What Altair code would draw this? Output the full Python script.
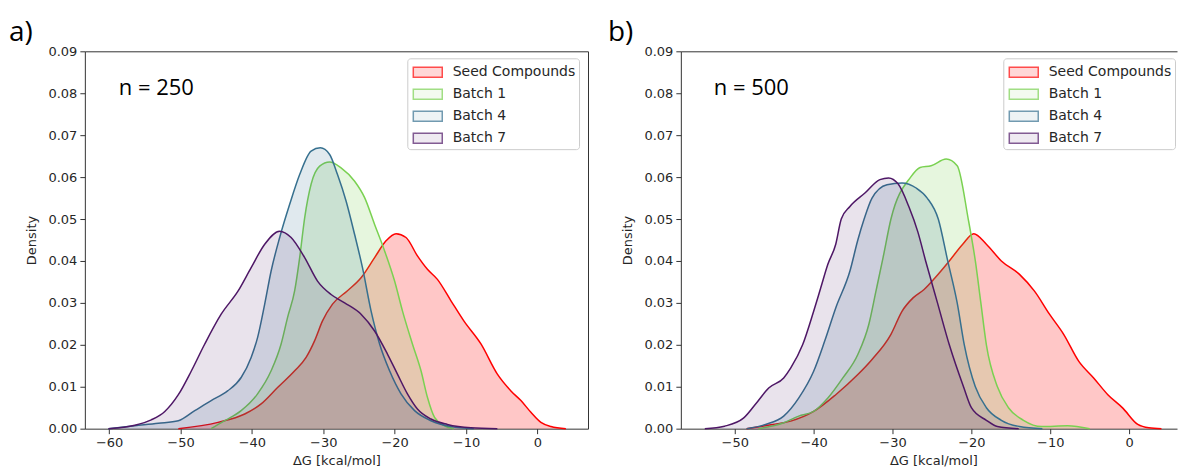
import altair as alt
import pandas as pd

SERIES = ["Seed Compounds", "Batch 1", "Batch 4", "Batch 7"]
LINE_COLORS = ["#ff0000", "#7ad151", "#36708f", "#4e1766"]
FILL_ALPHA = [0.22, 0.12, 0.12, 0.12]
SWATCH_COLORS = ["#ffc7c7", "#eff9ea", "#e6eef2", "#e9e2ec"]
DRAW_ORDER = ["Seed Compounds", "Batch 1", "Batch 4", "Batch 7"]

Y_TICKS = [0.0, 0.01, 0.02, 0.03, 0.04, 0.05, 0.06, 0.07, 0.08, 0.09]
A_X_TICKS = [-60, -50, -40, -30, -20, -10, 0]
B_X_TICKS = [-50, -40, -30, -20, -10, 0]

# ---- panel a (n = 250) ----
A_SEED_X = [-50.3, -44.75, -41.0, -38.7, -36.4, -34.0, -32.4, -31.2, -30.1, -28.7, -26.6, -24.7, -22.8, -21.2,
            -19.8, -18.4, -16.8, -15.4, -14.0, -12.1, -10.3, -7.9, -5.6, -3.7, -2.3, -0.9, 0.5, 1.9, 4.0]
A_SEED_Y = [0, 0.0015, 0.0035, 0.0059, 0.0098, 0.0138, 0.017, 0.021, 0.0257, 0.0297, 0.0329, 0.036, 0.0408, 0.0448,
            0.0465, 0.0456, 0.0412, 0.038, 0.0356, 0.0305, 0.0257, 0.0202, 0.013, 0.009, 0.0067, 0.0039, 0.0015,
            0.0005, 0]

A_B1_X = [-45.7, -43.8, -41.5, -39.2, -37.3, -35.9, -35.0, -34.0, -33.3, -32.6, -31.7, -30.5, -29.1, -27.5,
          -25.6, -24.2, -22.8, -21.4, -20.0, -18.9, -17.5, -16.3, -15.4, -14.4, -13.0, -11.7]
A_B1_Y = [0, 0.0019, 0.0043, 0.0083, 0.0138, 0.0202, 0.0265, 0.0329, 0.0408, 0.0503, 0.0583, 0.0626, 0.0636,
          0.0622, 0.059, 0.0551, 0.0487, 0.0424, 0.0352, 0.0281, 0.0202, 0.0138, 0.0075, 0.0027, 0.0007, 0]

A_B4_X = [-60.1, -56.4, -53.1, -50.3, -48.0, -45.7, -43.4, -41.5, -40.1, -39.2, -38.2, -37.3, -36.1, -34.7,
          -33.3, -31.7, -30.4, -29.1, -28.0, -26.8, -25.6, -24.5, -23.3, -22.1, -20.7, -19.1, -17.2, -14.9,
          -12.1, -8.9]
A_B4_Y = [0, 0.0007, 0.0013, 0.0019, 0.0043, 0.0067, 0.009, 0.0122, 0.017, 0.0217, 0.0297, 0.0376, 0.0456, 0.0535,
          0.0606, 0.0662, 0.067, 0.0654, 0.0606, 0.0543, 0.0463, 0.0384, 0.0281, 0.0202, 0.0138, 0.0083, 0.0043,
          0.0019, 0.0005, 0]

A_B7_X = [-60.1, -56.4, -54.1, -52.2, -50.3, -48.5, -46.6, -44.3, -41.9, -40.1, -38.2, -36.1, -34.5, -32.6,
          -30.8, -28.9, -27.0, -24.7, -22.8, -21.0, -19.6, -18.2, -16.8, -14.9, -12.6, -9.3, -5.6]
A_B7_Y = [0, 0.0008, 0.0021, 0.0041, 0.0081, 0.0137, 0.0202, 0.0273, 0.0329, 0.0384, 0.044, 0.0471, 0.0456, 0.0408,
          0.0352, 0.032, 0.03, 0.0273, 0.0233, 0.0178, 0.013, 0.0083, 0.0047, 0.0023, 0.001, 0.0002, 0]

# ---- panel b (n = 500) ----
B_SEED_X = [-48.5, -45.2, -42.9, -40, -37.2, -34.4, -32.6, -30.2, -28.8, -27.4, -26, -24.6, -22.8, -21.1,
            -19.7, -18.1, -16.2, -13.9, -12, -10.1, -8.3, -6.4, -4.5, -2.7, -0.8, 1.1, 2.5, 4.1]
B_SEED_Y = [0, 0.001, 0.0018, 0.0041, 0.0081, 0.0129, 0.0165, 0.0225, 0.028, 0.0312, 0.0332, 0.036, 0.04, 0.044,
            0.0465, 0.044, 0.04, 0.0368, 0.0328, 0.0273, 0.0225, 0.0161, 0.0121, 0.0081, 0.0049, 0.001, 0.0002, 0]

B_B1_X = [-47, -43.8, -41.9, -40, -38.2, -36.3, -34.4, -33, -32.1, -31.2, -30.2, -27.7, -26.5, -25.1,
          -23.2, -21.8, -20.4, -19.5, -18.8, -18.1, -16.7, -15.3, -13.4, -11.1, -7.8, -5]
B_B1_Y = [0, 0.0014, 0.003, 0.0041, 0.0073, 0.0121, 0.0177, 0.0249, 0.0328, 0.0408, 0.05, 0.06, 0.0623, 0.0627,
          0.0643, 0.0627, 0.05, 0.04, 0.03, 0.02, 0.01, 0.005, 0.002, 0.0005, 0.0007, 0]

B_B4_X = [-48.5, -46.1, -43.8, -41.9, -40, -38.6, -37.2, -35.4, -34.4, -33.6, -32.6, -30.7, -28.8, -27,
          -25.6, -24.2, -23, -21.8, -20.9, -19.5, -18.1, -16.2, -13.9, -11]
B_B4_Y = [0, 0.001, 0.003, 0.0073, 0.0137, 0.0209, 0.0288, 0.0376, 0.045, 0.05, 0.055, 0.0582, 0.0586, 0.0574,
          0.055, 0.05, 0.04, 0.03, 0.02, 0.01, 0.005, 0.002, 0.0005, 0]

B_B7_X = [-53.8, -51.3, -48.9, -47.1, -45.7, -43.8, -42.9, -41.4, -40, -39.1, -38.2, -37.2, -36.5, -35.4,
          -33.5, -31.6, -30.5, -29.3, -27.9, -26.8, -25.8, -24.3, -22.8, -21, -20, -18.1, -16.7, -14]
B_B7_Y = [0, 0.0006, 0.0025, 0.0065, 0.0097, 0.0121, 0.0145, 0.02, 0.028, 0.0336, 0.0392, 0.044, 0.05, 0.053,
          0.0562, 0.0594, 0.0598, 0.0584, 0.0528, 0.047, 0.04, 0.03, 0.02, 0.01, 0.005, 0.002, 0.0005, 0]

PANEL_A = {"Seed Compounds": (A_SEED_X, A_SEED_Y), "Batch 1": (A_B1_X, A_B1_Y),
           "Batch 4": (A_B4_X, A_B4_Y), "Batch 7": (A_B7_X, A_B7_Y)}
PANEL_B = {"Seed Compounds": (B_SEED_X, B_SEED_Y), "Batch 1": (B_B1_X, B_B1_Y),
           "Batch 4": (B_B4_X, B_B4_Y), "Batch 7": (B_B7_X, B_B7_Y)}

INK = "#262626"
FONT = "DejaVu Sans"
SYMBOL = "M-0.8,-0.5H2.1V0.5H-0.8Z"


def make_legend():
    return alt.Legend(
        title=None, orient="none", legendX=323, legendY=7, padding=3,
        fillColor="white", strokeColor="#cccccc", cornerRadius=3,
        symbolType=SYMBOL, symbolSize=400, symbolStrokeWidth=1.5,
        labelFont=FONT, labelFontSize=14, labelColor=INK, labelOffset=20.5, rowPadding=3.0, zindex=2,
    )


def panel(curves, xdom, width, xticks, tag, ntext, tag_dx, n_dx, right_spine, title_x):
    xscale = alt.Scale(domain=xdom, nice=False, zero=False)
    yscale = alt.Scale(domain=[0, 0.09], nice=False, zero=False)
    main_x = alt.Axis(values=xticks, title="ΔG [kcal/mol]", labelExpr="replace(datum.label, '-', '\u2212')",
                      labelFlush=False, tickSize=5, labelPadding=3, titlePadding=5, titleX=title_x)
    main_y = alt.Axis(values=Y_TICKS, format=".2f", title="Density", tickSize=5, labelPadding=3,
                      titlePadding=9, labelFlush=False)
    layers = []
    first = True
    for name in DRAW_ORDER:
        xs, ys = curves[name]
        df = pd.DataFrame({"series": name, "x": xs, "d": ys})
        area = alt.Chart(df).mark_area(interpolate="monotone").encode(
            x=alt.X("x:Q", scale=xscale, axis=main_x if first else None),
            y=alt.Y("d:Q", scale=yscale, axis=main_y if first else None),
            fill=alt.Fill("series:N", scale=alt.Scale(domain=SERIES, range=LINE_COLORS), legend=None),
            opacity=alt.Opacity("series:N", scale=alt.Scale(domain=SERIES, range=FILL_ALPHA), legend=None),
        )
        line = alt.Chart(df).mark_line(interpolate="monotone", strokeWidth=1.5).encode(
            x=alt.X("x:Q", scale=xscale, axis=None),
            y=alt.Y("d:Q", scale=yscale, axis=None),
            stroke=alt.Stroke("series:N", scale=alt.Scale(domain=SERIES, range=LINE_COLORS), legend=None),
        )
        layers += [area, line]
        first = False
    # legend carrier: no rows, only the scales' domains feed the legend
    legend_layer = alt.Chart(alt.Data(values=[])).mark_point(filled=True).encode(
        x=alt.X("x:Q", scale=xscale, axis=None),
        y=alt.Y("d:Q", scale=yscale, axis=None),
        fill=alt.Fill("series:N", scale=alt.Scale(domain=SERIES, range=SWATCH_COLORS), legend=make_legend()),
        stroke=alt.Stroke("series:N", scale=alt.Scale(domain=SERIES, range=LINE_COLORS), legend=make_legend()),
    )
    fx, fy = curves["Seed Compounds"]
    frame_df = pd.DataFrame({"x": fx, "d": fy})
    top_axis = alt.Axis(orient="top", labels=False, ticks=False, title=None, domain=True,
                        minExtent=0, maxExtent=0, offset=0)
    right_axis = alt.Axis(orient="right", labels=False, ticks=False, title=None, domain=True,
                          minExtent=0, maxExtent=0, offset=0)
    frame = alt.Chart(frame_df).mark_line(opacity=0).encode(
        x=alt.X("x:Q", scale=xscale, axis=top_axis),
        y=alt.Y("d:Q", scale=yscale, axis=right_axis if right_spine else None),
    )
    tag_txt = alt.Chart(alt.Data(values=[{}])).mark_text(
        text=tag, font="Open Sans", fontSize=28, align="left", baseline="alphabetic", color="black"
    ).encode(x=alt.value(tag_dx), y=alt.value(-10))
    n_txt = alt.Chart(alt.Data(values=[{}])).mark_text(
        text=ntext, font="Open Sans", fontSize=22, align="left", baseline="alphabetic", color="black"
    ).encode(x=alt.value(n_dx), y=alt.value(44))
    return alt.layer(*layers, legend_layer, frame, tag_txt, n_txt).resolve_axis(
        x="independent", y="independent"
    ).resolve_scale(fill="independent", stroke="independent").properties(width=width, height=378)


pa = panel(PANEL_A, [-63.4, 7.1], 504, A_X_TICKS, "a)", "n = 250", -76, 34, True, 252)
pb = panel(PANEL_B, [-56.84, 6.07], 497, B_X_TICKS, "b)", "n = 500", -73, 33, False, 253)

chart = alt.hconcat(pa, pb, spacing=93, bounds="flush").resolve_scale(
    fill="independent", stroke="independent", opacity="independent"
).properties(
    padding={"left": 8, "top": 18, "right": 0, "bottom": 0}, background="white"
).configure_view(stroke="transparent").configure_axis(
    labelFont=FONT, labelFontSize=13, labelColor=INK, titleFont=FONT, titleFontSize=13,
    titleFontWeight="normal", titleColor=INK, tickColor="#333333", domainColor="#333333",
    grid=False, zindex=1, domainWidth=1,
)

chart.save("out.html", embed_options={"renderer": "svg", "actions": False})
